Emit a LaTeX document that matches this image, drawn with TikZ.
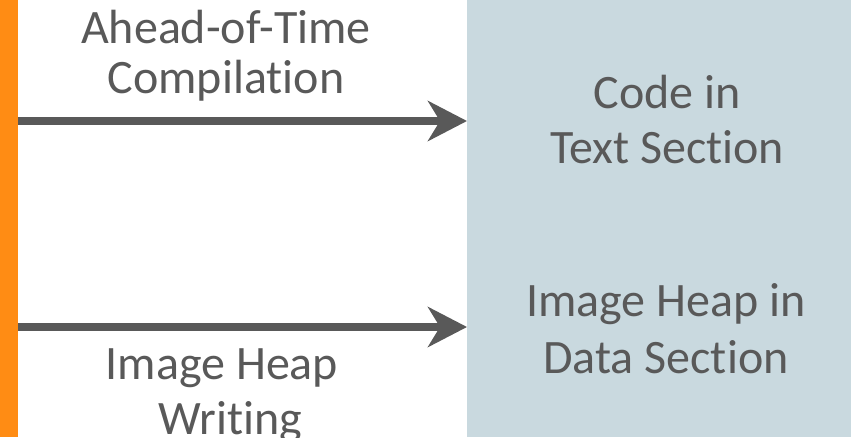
\documentclass[tikz,border=0pt]{standalone}
\usepackage{fontspec}
\setmainfont[Ligatures=NoCommon]{Carlito}
\usetikzlibrary{arrows.meta}
\definecolor{barorange}{HTML}{FF8C14}
\definecolor{secfill}{HTML}{C9D9DF}
\definecolor{ink}{HTML}{595959}
\tikzset{
  label/.style={anchor=base, text=ink, inner sep=0pt, font=\fontsize{48}{56}\selectfont},
  flow/.style={draw=ink, line width=8pt,
    -{Stealth[length=39pt, width=40pt, inset=12pt]}},
}
\begin{document}
\begin{tikzpicture}[x=1pt, y=-1pt]
  % canvas
  \fill[white] (0,0) rectangle (851,437);
  \useasboundingbox (0,0) rectangle (851,437);
  % orange bar on the left, section block on the right
  \fill[barorange] (0,0) rectangle (18,437);
  \fill[secfill] (467,0) rectangle (851,437);

  % arrow end points
  \coordinate (srcA) at (18,121);
  \coordinate (dstA) at (467,121);
  \coordinate (srcB) at (18,327);
  \coordinate (dstB) at (467,327);
  \draw[flow] (srcA) -- (dstA);
  \draw[flow] (srcB) -- (dstB);

  % arrow labels
  \node[label] (aot1) at (226,43) {Ahead-of-Time};
  \node[label] (aot2) at (226,93) {Compilation};
  \node[label] (ihw1) at (222,379) {Image Heap};
  \node[label] (ihw2) at (230,434) {Writing};

  % section labels
  \node[label] (txt1) at (667,108) {Code in};
  \node[label] (txt2) at (667,163) {Text Section};
  \node[label] (dat1) at (666,316) {Image Heap in};
  \node[label] (dat2) at (666,373) {Data Section};
\end{tikzpicture}
\end{document}
